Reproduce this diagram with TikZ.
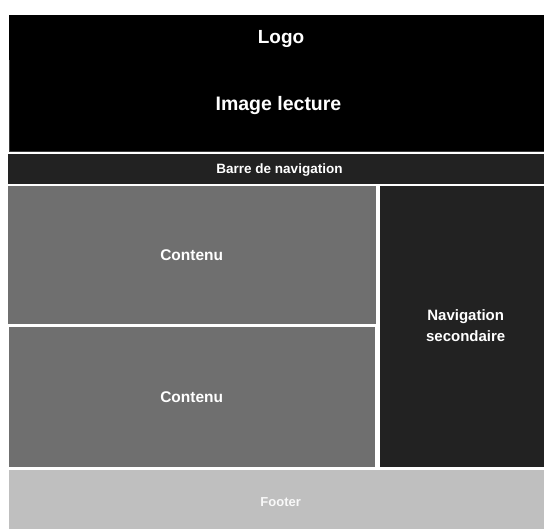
\documentclass[tikz,border=0pt]{standalone}
\usepackage{fontspec}
\setmainfont{Liberation Sans}
\definecolor{hdr}{HTML}{000000}
\definecolor{bar}{HTML}{222222}
\definecolor{cont}{HTML}{6F6F6F}
\definecolor{foot}{HTML}{BFBFBF}
\definecolor{edge}{HTML}{3A3A3A}
\begin{document}
\begin{tikzpicture}[x=1pt,y=-1pt,
  lbl/.style={text=white,font=\bfseries,anchor=base,inner sep=0pt},
  blk/.style={draw=none}]
\useasboundingbox (0,0) rectangle (544,529);
\fill[white] (0,0) rectangle (544,529);
% blocks
\fill[hdr] (9,15) rectangle (544,152);
\draw[edge,line width=0.8pt] (9.4,60) -- (9.4,151.6) -- (544,151.6);
\fill[bar] (8,154) rectangle (544,184);
\fill[cont] (8,186) rectangle (375.5,324);
\fill[cont] (9,327) rectangle (375,467);
\fill[bar] (380,186) rectangle (544,467);
\fill[foot] (9,470) rectangle (544,529);
% labels
\node[lbl,font=\fontsize{19}{22}\selectfont\bfseries] (logo) at (281,44) {Logo};
\node[lbl,font=\fontsize{19.5}{22}\selectfont\bfseries] (img) at (278.5,110.5) {Image lecture};
\node[lbl,font=\fontsize{13.5}{16}\selectfont\bfseries] (nav) at (279.5,174) {Barre de navigation};
\node[lbl,font=\fontsize{15.5}{18}\selectfont\bfseries] (c1) at (191.7,260.5) {Contenu};
\node[lbl,font=\fontsize{15.5}{18}\selectfont\bfseries] (c2) at (191.7,402.5) {Contenu};
\node[lbl,font=\fontsize{15}{18}\selectfont\bfseries] (ns1) at (465.7,321) {Navigation};
\node[lbl,font=\fontsize{15}{18}\selectfont\bfseries] (ns2) at (465.7,342) {secondaire};
\node[lbl,text=white!95!gray,font=\fontsize{13}{16}\selectfont\bfseries] (ft) at (280.7,507) {Footer};
\end{tikzpicture}
\end{document}
